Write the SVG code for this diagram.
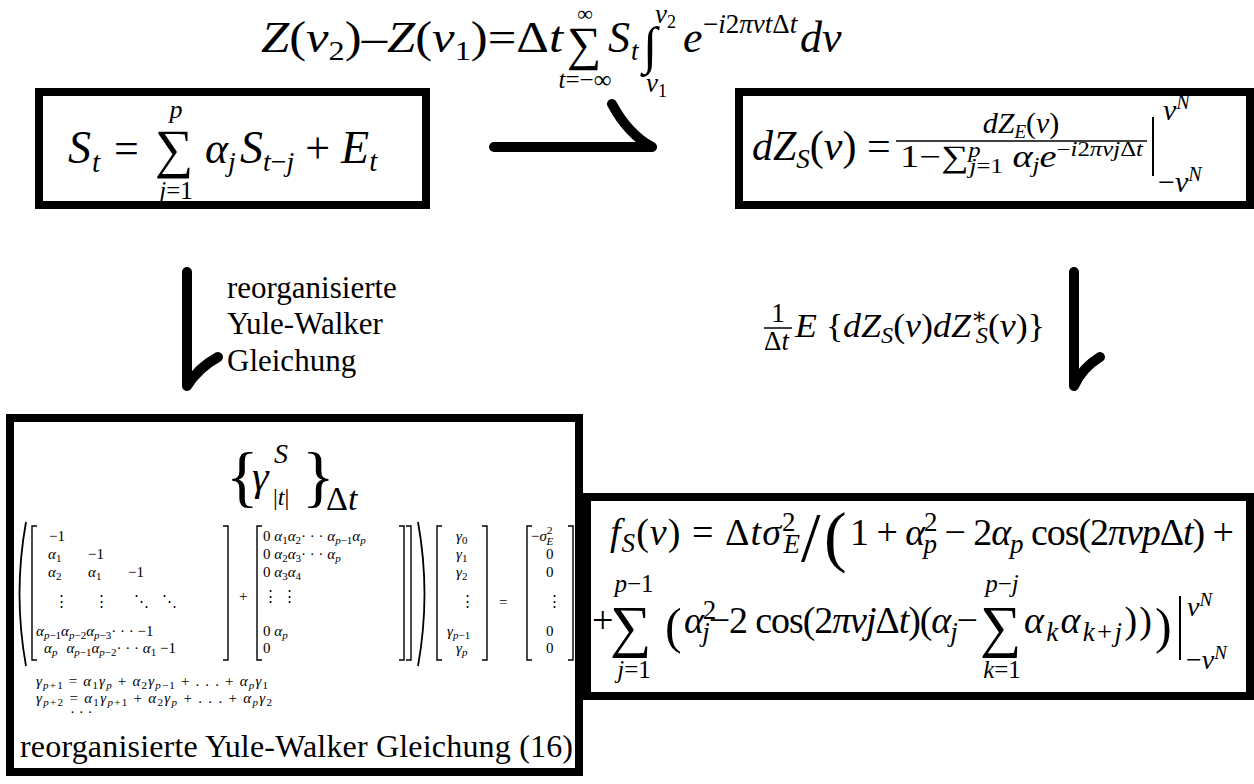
<svg xmlns="http://www.w3.org/2000/svg" width="1254" height="784" viewBox="0 0 1254 784" font-family="'Liberation Serif', serif">
<style>
text{font-family:"Liberation Serif","DejaVu Serif",serif;fill:#000}
.i{font-style:italic}
.n{font-style:normal}
.box{fill:none;stroke:#000;stroke-width:8}
.arr{fill:none;stroke:#000;stroke-width:10;stroke-linecap:round;stroke-linejoin:round}
.thin{stroke:#000;stroke-width:1.5}
.br{fill:none;stroke:#000;stroke-width:1.4}
.m{font-size:42px}
.s{font-size:27px}
.lab{font-size:31px}
.mx{font-size:15px}
.t{font-size:11px}
</style>
<rect width="1254" height="784" fill="#fff"/>
<g id="top-formula">
<text font-size="44" x="261" y="52" textLength="302" lengthAdjust="spacingAndGlyphs"><tspan class="i">Z</tspan>(<tspan class="i">ν</tspan><tspan font-size="28" dy="8">2</tspan><tspan dy="-8">)–</tspan><tspan class="i">Z</tspan>(<tspan class="i">ν</tspan><tspan font-size="28" dy="8">1</tspan><tspan dy="-8">)=Δ</tspan><tspan class="i">t</tspan></text>
<text x="567" y="60" font-size="48">∑</text>
<text font-size="22" x="585" y="21" text-anchor="middle">∞</text>
<text font-size="25" x="585" y="88" text-anchor="middle"><tspan class="i">t</tspan>=−∞</text>
<text font-size="44" class="i" x="608" y="52">S</text><text class="s i" x="631" y="60">t</text>
<text x="643" y="63" font-size="52">∫</text>
<text class="s i" x="655" y="23">ν<tspan font-size="18" class="n" dy="5">2</tspan></text>
<text class="s i" x="646" y="92">ν<tspan font-size="18" class="n" dy="5">1</tspan></text>
<text font-size="44" class="i" x="683" y="52">e</text>
<text font-size="27" x="703" y="33">−<tspan class="i">i</tspan>2<tspan class="i">πνt</tspan>Δ<tspan class="i">t</tspan></text>
<text font-size="44" class="i" x="800" y="52">dν</text>
</g>
<g id="node-ar">
<rect class="box" x="39" y="92" width="387" height="113"/>
<text font-size="46" class="i" x="68" y="163">S</text><text font-size="29" class="i" x="92" y="172">t</text>
<text font-size="44" x="114" y="163">=</text>
<text x="155" y="167" font-size="54">∑</text>
<text font-size="26" class="i" x="176" y="118" text-anchor="middle">p</text>
<text font-size="25" x="176" y="199" text-anchor="middle"><tspan class="i">j</tspan>=1</text>
<text font-size="44" x="205" y="163"><tspan class="i">α</tspan><tspan font-size="28" class="i" dy="8">j</tspan><tspan font-size="46" class="i" dy="-8" dx="4">S</tspan><tspan font-size="28" dy="8"><tspan class="i">t</tspan>−<tspan class="i">j</tspan></tspan><tspan dy="-8"> + </tspan><tspan font-size="46" class="i">E</tspan><tspan font-size="29" class="i" dy="8">t</tspan></text>
</g>
<g id="node-dz">
<rect class="box" x="739" y="92" width="511" height="113"/>
<text class="m" x="752" y="160"><tspan class="i">dZ</tspan><tspan class="s i" dy="8">S</tspan><tspan dy="-8">(</tspan><tspan class="i">ν</tspan>) =</text>
<text font-size="30" x="1021" y="133" text-anchor="middle"><tspan class="i">dZ</tspan><tspan font-size="19" class="i" dy="5">E</tspan><tspan dy="-5">(</tspan><tspan class="i">ν</tspan>)</text>
<line class="thin" x1="896" y1="141" x2="1147" y2="141"/>
<text font-size="31" x="900" y="167" textLength="243" lengthAdjust="spacingAndGlyphs">1−∑<tspan font-size="20" class="i" dy="-10">p</tspan><tspan font-size="20" dx="-9" dy="16"><tspan class="i">j</tspan>=1</tspan><tspan class="i" dy="-6"> α</tspan><tspan font-size="20" class="i" dy="5">j</tspan><tspan class="i" dy="-5">e</tspan><tspan font-size="20" dy="-11">−<tspan class="i">i</tspan>2<tspan class="i">πνj</tspan>Δ<tspan class="i">t</tspan></tspan></text>
<line x1="1153" y1="117" x2="1153" y2="176" stroke="#000" stroke-width="2"/>
<text font-size="30" class="i" x="1163" y="120">ν<tspan font-size="20" dy="-11">N</tspan></text>
<text font-size="30" class="i" x="1158" y="192"><tspan class="n">−</tspan>ν<tspan font-size="20" dy="-11">N</tspan></text>
</g>
<g id="node-yw">
<rect class="box" x="10" y="418" width="569" height="354"/>
<text x="226" y="499" font-size="68">{</text>
<text class="i" x="252" y="490" font-size="42">γ</text>
<text class="i" x="274" y="463" font-size="28">S</text>
<text font-size="24" x="273" y="505">|<tspan class="i">t</tspan>|</text>
<text x="302" y="499" font-size="68">}</text>
<text x="326" y="510" font-size="34">Δ<tspan class="i">t</tspan></text>
<path d="M26,522 Q13,594 26,666" fill="none" stroke="#000" stroke-width="1.8"/>
<path class="br" d="M37,526 H32 V660 H37 M223,526 H228 V660 H223"/>
<g class="mx">
<text x="49" y="541">−1</text>
<text x="48" y="559"><tspan class="i">α</tspan><tspan class="t" dy="3">1</tspan></text><text x="88" y="559">−1</text>
<text x="48" y="577"><tspan class="i">α</tspan><tspan class="t" dy="3">2</tspan></text><text x="88" y="577"><tspan class="i">α</tspan><tspan class="t" dy="3">1</tspan></text><text x="128" y="577">−1</text>
<text x="54" y="606">⋮</text><text x="94" y="606">⋮</text><text x="134" y="606">⋱</text><text x="162" y="606">⋱</text>
<text x="36" y="636"><tspan class="i">α</tspan><tspan class="t" dy="3"><tspan class="i">p</tspan>−1</tspan><tspan class="i" dy="-3">α</tspan><tspan class="t" dy="3"><tspan class="i">p</tspan>−2</tspan><tspan class="i" dy="-3">α</tspan><tspan class="t" dy="3"><tspan class="i">p</tspan>−3</tspan><tspan dy="-3">· · · −1</tspan></text>
<text x="44" y="653"><tspan class="i">α</tspan><tspan class="t i" dy="3">p</tspan><tspan class="i" dy="-3" dx="9">α</tspan><tspan class="t" dy="3"><tspan class="i">p</tspan>−1</tspan><tspan class="i" dy="-3">α</tspan><tspan class="t" dy="3"><tspan class="i">p</tspan>−2</tspan><tspan dy="-3">· · · </tspan><tspan class="i">α</tspan><tspan class="t" dy="3">1</tspan><tspan dy="-3"> −1</tspan></text>
<text x="239" y="601">+</text>
<path class="br" d="M262,526 H257 V660 H262 M399,526 H404 V660 H399 M406,526 H411 V660 H406"/>
<text x="263" y="541">0 <tspan class="i">α</tspan><tspan class="t" dy="3">1</tspan><tspan class="i" dy="-3">α</tspan><tspan class="t" dy="3">2</tspan><tspan dy="-3">· · · </tspan><tspan class="i">α</tspan><tspan class="t" dy="3"><tspan class="i">p</tspan>−1</tspan><tspan class="i" dy="-3">α</tspan><tspan class="t i" dy="3">p</tspan></text>
<text x="263" y="559">0 <tspan class="i">α</tspan><tspan class="t" dy="3">2</tspan><tspan class="i" dy="-3">α</tspan><tspan class="t" dy="3">3</tspan><tspan dy="-3">· · ·   </tspan><tspan class="i">α</tspan><tspan class="t i" dy="3">p</tspan></text>
<text x="263" y="577">0 <tspan class="i">α</tspan><tspan class="t" dy="3">3</tspan><tspan class="i" dy="-3">α</tspan><tspan class="t" dy="3">4</tspan></text>
<text x="263" y="601">⋮  ⋮</text>
<text x="263" y="636">0 <tspan class="i">α</tspan><tspan class="t i" dy="3">p</tspan></text>
<text x="263" y="653">0</text>
<path d="M418,522 Q431,594 418,666" fill="none" stroke="#000" stroke-width="1.8"/>
<path class="br" d="M442,526 H437 V660 H442 M482,526 H487 V660 H482"/>
<text class="i" x="456" y="541">γ<tspan class="t n" dy="3">0</tspan></text>
<text class="i" x="456" y="559">γ<tspan class="t n" dy="3">1</tspan></text>
<text class="i" x="456" y="577">γ<tspan class="t n" dy="3">2</tspan></text>
<text x="460" y="606">⋮</text>
<text class="i" x="447" y="636">γ<tspan class="t" dy="3">p<tspan class="n">−1</tspan></tspan></text>
<text class="i" x="456" y="653">γ<tspan class="t" dy="3">p</tspan></text>
<text x="499" y="607">=</text>
<path class="br" d="M532,526 H527 V660 H532 M568,526 H573 V660 H568"/>
<text x="531" y="541">−<tspan class="i">σ</tspan><tspan class="t" dy="-7">2</tspan><tspan class="t i" dx="-6" dy="11">E</tspan></text>
<text x="546" y="559">0</text>
<text x="546" y="577">0</text>
<text x="547" y="606">⋮</text>
<text x="546" y="636">0</text>
<text x="546" y="653">0</text>
<text x="36" y="686" textLength="232" lengthAdjust="spacing"><tspan class="i">γ</tspan><tspan class="t" dy="3"><tspan class="i">p</tspan>+1</tspan><tspan dy="-3"> = </tspan><tspan class="i">α</tspan><tspan class="t" dy="3">1</tspan><tspan class="i" dy="-3">γ</tspan><tspan class="t i" dy="3">p</tspan><tspan dy="-3"> + </tspan><tspan class="i">α</tspan><tspan class="t" dy="3">2</tspan><tspan class="i" dy="-3">γ</tspan><tspan class="t" dy="3"><tspan class="i">p</tspan>−1</tspan><tspan dy="-3"> + . . . + </tspan><tspan class="i">α</tspan><tspan class="t i" dy="3">p</tspan><tspan class="i" dy="-3">γ</tspan><tspan class="t" dy="3">1</tspan></text>
<text x="36" y="703" textLength="236" lengthAdjust="spacing"><tspan class="i">γ</tspan><tspan class="t" dy="3"><tspan class="i">p</tspan>+2</tspan><tspan dy="-3"> = </tspan><tspan class="i">α</tspan><tspan class="t" dy="3">1</tspan><tspan class="i" dy="-3">γ</tspan><tspan class="t" dy="3"><tspan class="i">p</tspan>+1</tspan><tspan dy="-3"> + </tspan><tspan class="i">α</tspan><tspan class="t" dy="3">2</tspan><tspan class="i" dy="-3">γ</tspan><tspan class="t i" dy="3">p</tspan><tspan dy="-3"> + . . . + </tspan><tspan class="i">α</tspan><tspan class="t i" dy="3">p</tspan><tspan class="i" dy="-3">γ</tspan><tspan class="t" dy="3">2</tspan></text>
<text x="70" y="717">· · ·</text>
</g>
<text x="20" y="757" font-size="32" textLength="553" lengthAdjust="spacing">reorganisierte Yule-Walker Gleichung (16)</text>
</g>
<g id="node-f">
<rect class="box" x="587" y="497" width="663" height="199"/>
<text font-size="38" x="610" y="545" textLength="190" lengthAdjust="spacing"><tspan class="i">f</tspan><tspan class="s i" dy="7">S</tspan><tspan dy="-7">(</tspan><tspan class="i">ν</tspan>) = Δ<tspan class="i">tσ</tspan><tspan class="s" dy="-14">2</tspan><tspan class="s i" dx="-13" dy="22">E</tspan></text>
<text x="801" y="561" font-size="70">/</text>
<text x="824" y="559" font-size="68">(</text>
<text font-size="38" x="850" y="545" textLength="384" lengthAdjust="spacing">1 + <tspan class="i">α</tspan><tspan class="s" dy="-14">2</tspan><tspan class="s i" dx="-13" dy="22">p</tspan><tspan dy="-8"> − 2</tspan><tspan class="i">α</tspan><tspan class="s i" dy="8">p</tspan><tspan dy="-8"> cos(2</tspan><tspan class="i">πνp</tspan>Δ<tspan class="i">t</tspan>) +</text>
<text font-size="38" x="592" y="633">+</text>
<text x="610" y="646" font-size="58">∑</text>
<text font-size="25" x="634" y="592" text-anchor="middle"><tspan class="i">p</tspan>−1</text>
<text font-size="25" x="634" y="678" text-anchor="middle"><tspan class="i">j</tspan>=1</text>
<text x="665" y="643" font-size="50">(</text>
<text font-size="38" x="684" y="633" textLength="294" lengthAdjust="spacing"><tspan class="i">α</tspan><tspan class="s" dy="-14">2</tspan><tspan class="s i" dx="-13" dy="22">j</tspan><tspan dy="-8">−2 cos(2</tspan><tspan class="i">πνj</tspan>Δ<tspan class="i">t</tspan>)(<tspan class="i">α</tspan><tspan class="s i" dy="8">j</tspan><tspan dy="-8">−</tspan></text>
<text x="980" y="646" font-size="58">∑</text>
<text font-size="25" x="1002" y="592" text-anchor="middle"><tspan class="i">p</tspan>−<tspan class="i">j</tspan></text>
<text font-size="25" x="1002" y="678" text-anchor="middle"><tspan class="i">k</tspan>=1</text>
<text font-size="38" x="1024" y="633" textLength="128" lengthAdjust="spacing"><tspan class="i">α</tspan><tspan class="s i" dy="8">k</tspan><tspan class="i" dy="-8">α</tspan><tspan class="s" dy="8"><tspan class="i">k</tspan>+<tspan class="i">j</tspan></tspan><tspan dy="-8">))</tspan></text>
<text x="1155" y="643" font-size="50">)</text>
<line x1="1180" y1="596" x2="1180" y2="660" stroke="#000" stroke-width="2"/>
<text font-size="28" class="i" x="1187" y="616">ν<tspan font-size="19" dy="-10">N</tspan></text>
<text font-size="28" class="i" x="1186" y="669"><tspan class="n">−</tspan>ν<tspan font-size="19" dy="-10">N</tspan></text>
</g>
<g id="label-right">
<text class="s" x="778" y="322" text-anchor="middle">1</text>
<line class="thin" x1="764" y1="328" x2="792" y2="328"/>
<text class="s" x="764" y="350">Δ<tspan class="i">t</tspan></text>
<text font-size="34" x="795" y="337" textLength="250" lengthAdjust="spacingAndGlyphs"><tspan class="i">E</tspan> {<tspan class="i">dZ</tspan><tspan font-size="23" class="i" dy="6">S</tspan><tspan dy="-6">(</tspan><tspan class="i">ν</tspan>)<tspan class="i">dZ</tspan><tspan font-size="23" dy="-13">∗</tspan><tspan font-size="23" class="i" dx="-11" dy="19">S</tspan><tspan dy="-6">(</tspan><tspan class="i">ν</tspan>)}</text>
</g>
<g id="label-left">
<text class="lab" x="227" y="298">reorganisierte</text>
<text class="lab" x="227" y="334">Yule-Walker</text>
<text class="lab" x="227" y="371">Gleichung</text>
</g>
<g id="connectors">
<path class="arr" d="M494,147 H652 M612,104 Q628,134 652,147"/>
<path class="arr" d="M187,272 V386 M218,357 Q198,368 187,386"/>
<path class="arr" d="M1074,272 V386 M1100,357 Q1082,368 1074,386"/>
</g>
</svg>
